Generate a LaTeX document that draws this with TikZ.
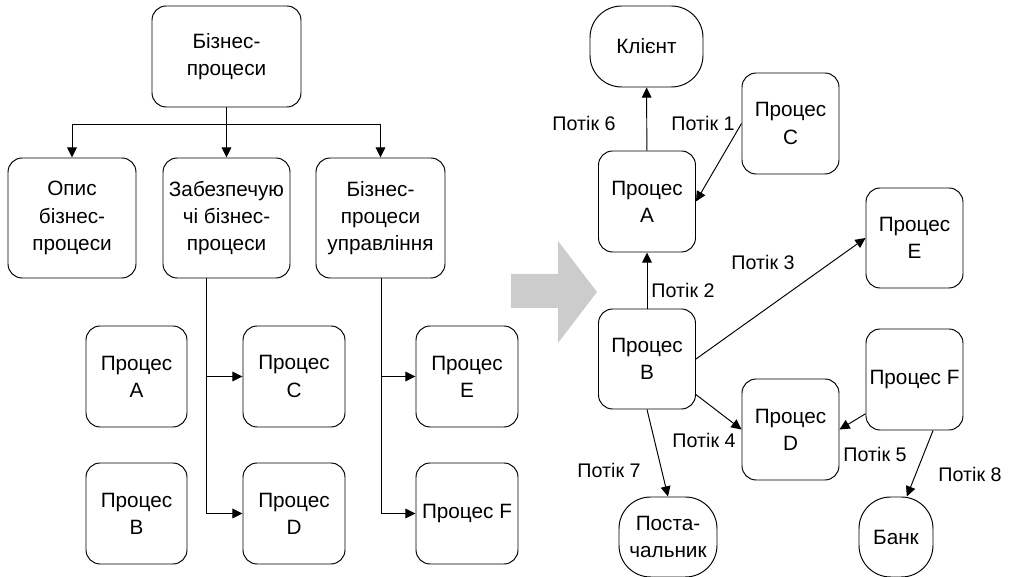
\documentclass[tikz,border=0pt]{standalone}
\usepackage{fontspec}
\setmainfont{Liberation Sans}
\usetikzlibrary{arrows.meta}
\definecolor{arrowgray}{RGB}{204,204,204}
\tikzset{
    box/.style={draw, rounded corners=8pt, align=center, inner sep=1pt, line width=0.55pt,
        font=\fontsize{11.8}{15.5}\selectfont},
    oval/.style={box, rounded corners=18pt},
    flow/.style={-{Triangle[length=5.8pt, width=5.5pt]}, line width=0.55pt},
    lbl/.style={inner sep=0pt, font=\fontsize{11.2}{13}\selectfont},
}
\begin{document}
\begin{tikzpicture}[x=0.02cm, y=-0.02cm]
        \useasboundingbox (0,0) rectangle (1036,577);
        \node[box, minimum width=2.98cm, minimum height=2.02cm] (bp) at (226.5,56.5) {Бізнес-\\процеси};
        \node[box, minimum width=2.56cm, minimum height=2.4cm] (opys) at (72,218) {Опис\\бізнес-\\процеси};
        \node[box, minimum width=2.54cm, minimum height=2.4cm] (zabezp) at (226.5,218) {Забезпечую\\чі бізнес-\\процеси};
        \node[box, minimum width=2.58cm, minimum height=2.4cm] (upr) at (380.5,218) {Бізнес-\\процеси\\управління};
        \node[box, minimum width=2.02cm, minimum height=2.02cm] (la) at (136.5,376.5) {Процес\\A};
        \node[box, minimum width=2.02cm, minimum height=2.02cm] (lb) at (136.5,513.5) {Процес\\B};
        \node[box, minimum width=2.04cm, minimum height=2.02cm] (lc) at (294,376.5) {Процес\\C};
        \node[box, minimum width=2.04cm, minimum height=2.02cm] (ld) at (294,513.5) {Процес\\D};
        \node[box, minimum width=2.04cm, minimum height=2.02cm] (le) at (467,376.5) {Процес\\E};
        \node[box, minimum width=2.04cm, minimum height=2.02cm] (lf) at (467,513.5) {Процес F};
        \coordinate (split) at (226.5,124);
        \coordinate (zs) at (206,278);
        \coordinate (us) at (381,278);
        \draw[line width=0.55pt] (bp) -- (split);
        \draw[flow] (split) -| (opys);
        \draw[flow] (split) -- (zabezp);
        \draw[flow] (split) -| (upr);
        \draw[flow] (zs) |- (lc);
        \draw[flow] (zs) |- (ld);
        \draw[flow] (us) |- (le);
        \draw[flow] (us) |- (lf);
        \fill[arrowgray] (511,274) -- (558,274) -- (558,241) -- (597,292) -- (558,343) -- (558,308) -- (511,308) -- cycle;
        \node[oval, minimum width=2.26cm, minimum height=1.62cm] (client) at (646.5,46.5) {Клієнт};
        \node[box, minimum width=1.94cm, minimum height=2.02cm] (ra) at (647,201.5) {Процес\\A};
        \node[box, minimum width=1.94cm, minimum height=2.02cm] (rc) at (790.5,123.5) {Процес\\C};
        \node[box, minimum width=1.94cm, minimum height=2cm] (re) at (914.5,238) {Процес\\E};
        \node[box, minimum width=1.94cm, minimum height=2cm] (rb) at (647,359) {Процес\\B};
        \node[box, minimum width=1.94cm, minimum height=2.02cm] (rd) at (790.5,429.5) {Процес\\D};
        \node[box, minimum width=1.94cm, minimum height=2.02cm] (rf) at (914.5,379.5) {Процес F};
        \node[oval, minimum width=1.96cm, minimum height=1.6cm] (post) at (668,537) {Поста-\\чальник};
        \node[oval, minimum width=1.48cm, minimum height=1.6cm] (bank) at (896,537) {Банк};
        \draw[flow] (ra) -- (client);
        \draw[flow] (rc.west) -- (ra.east);
        \draw[flow] (rb) -- (ra);
        \draw[flow] (rb.east) -- (re.west);
        \draw[flow] (rb.-36) -- (rd.west);
        \draw[flow] (rf.215) -- (rd.east);
        \draw[flow] (rb.south) -- (post.north);
        \draw[flow] (rf.-70) -- (bank.75);
        \node[lbl] (p6) at (584,123) {Потік 6};
        \node[lbl] (p1) at (703,123) {Потік 1};
        \node[lbl] (p3) at (763,262) {Потік 3};
        \node[lbl] (p2) at (683,290) {Потік 2};
        \node[lbl] (p4) at (704,440) {Потік 4};
        \node[lbl] (p7) at (609,470) {Потік 7};
        \node[lbl] (p5) at (875,454) {Потік 5};
        \node[lbl] (p8) at (970,474) {Потік 8};
\end{tikzpicture}
\end{document}
